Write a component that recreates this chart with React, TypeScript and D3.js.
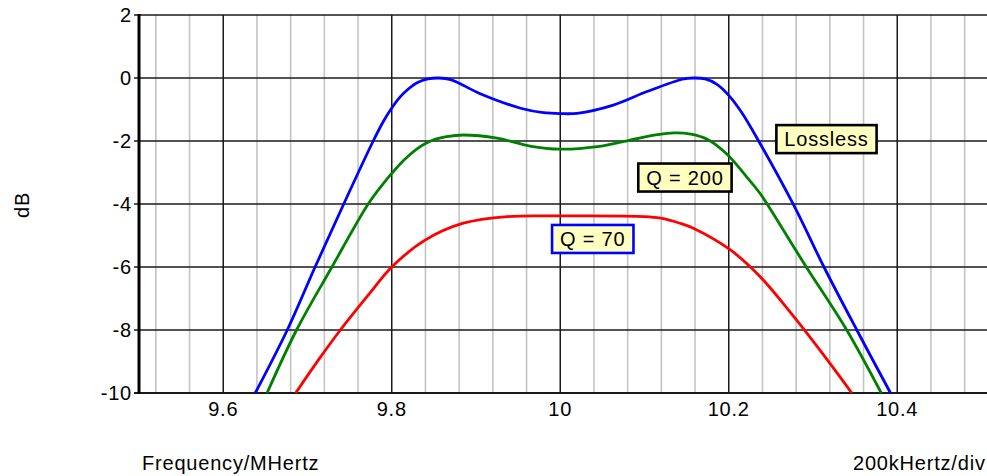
import React, { useRef, useEffect } from "react";
import * as d3 from "d3";

// frequency in MHz, level in dB
const losslessFreq = [9.638, 9.676, 9.709, 9.743, 9.778, 9.79, 9.8, 9.81, 9.82, 9.83, 9.843, 9.856, 9.87, 9.905, 9.953, 9.98, 10.0, 10.02, 10.063, 10.103, 10.145, 10.158, 10.172, 10.186, 10.2, 10.215, 10.237, 10.277, 10.313, 10.352, 10.392];
const losslessDb = [-10, -8, -6, -4, -2, -1.38, -0.95, -0.6, -0.34, -0.15, -0.03, 0, -0.05, -0.5, -0.96, -1.1, -1.13, -1.12, -0.86, -0.43, -0.04, 0, -0.03, -0.2, -0.55, -1.08, -2.07, -4.03, -6, -8, -10];

const q200Freq = [9.652, 9.687, 9.729, 9.772, 9.79, 9.8, 9.81, 9.82, 9.83, 9.84, 9.852, 9.865, 9.885, 9.925, 9.964, 10.0, 10.044, 10.083, 10.115, 10.135, 10.155, 10.175, 10.198, 10.22, 10.237, 10.277, 10.292, 10.34, 10.381];
const q200Db = [-10, -8, -6, -4, -3.35, -3.03, -2.73, -2.47, -2.25, -2.08, -1.94, -1.86, -1.81, -1.91, -2.16, -2.26, -2.18, -1.97, -1.8, -1.74, -1.78, -1.95, -2.42, -3.1, -3.66, -5.36, -6, -8, -10];

const q70Freq = [9.686, 9.713, 9.739, 9.774, 9.8, 9.84, 9.885, 9.937, 10.0, 10.1, 10.119, 10.142, 10.158, 10.202, 10.237, 10.277, 10.317, 10.346];
const q70Db = [-10, -8.95, -8, -6.83, -6, -5.14, -4.61, -4.4, -4.38, -4.4, -4.45, -4.61, -4.77, -5.46, -6.3, -7.57, -8.95, -10];

const yTicks = [2, 0, -2, -4, -6, -8, -10];
const xTickLabels = ["9.6", "9.8", "10", "10.2", "10.4"];

const series = [
  { name: "Lossless", freq: losslessFreq, db: losslessDb, color: "#0000ff" },
  { name: "Q = 200", freq: q200Freq, db: q200Db, color: "#008000" },
  { name: "Q = 70", freq: q70Freq, db: q70Db, color: "#ff0000" },
];

// curve labels, anchored at data coordinates
const labels = [
  { text: "Lossless", f: 10.316, db: -1.94, border: "#000000" },
  { text: "Q = 200", f: 10.148, db: -3.16, border: "#000000" },
  { text: "Q = 70", f: 10.0386, db: -5.11, border: "#0000ff" },
];

function App() {
  const svgRef = useRef(null);

  useEffect(() => {
    const width = 987;
    const height = 476;
    const font = "'Liberation Sans', Arial, sans-serif";
    const fontSize = 20;
    const spacing = 0.8;

    const svg = d3.select(svgRef.current)
      .attr("width", width)
      .attr("height", height);

    svg.selectAll("*").remove();

    const x = d3.scaleLinear().domain([9.5, 10.5]).range([139, 981.5]);
    const y = d3.scaleLinear().domain([-10, 2]).range([393, 15]);

    // GRID
    const minor = d3.range(0, 28).map(k => 9.52 + k * 0.04).filter(f => Math.abs(((f - 9.6) / 0.2) - Math.round((f - 9.6) / 0.2)) > 0.01);
    svg.append("g")
      .selectAll("line")
      .data(minor)
      .enter()
      .append("line")
      .attr("x1", d => x(d))
      .attr("x2", d => x(d))
      .attr("y1", y(2))
      .attr("y2", y(-10))
      .attr("stroke", "#c4c4c4")
      .attr("stroke-width", 1.6);

    const major = xTickLabels.map(Number);
    svg.append("g")
      .selectAll("line")
      .data(major)
      .enter()
      .append("line")
      .attr("x1", d => x(d))
      .attr("x2", d => x(d))
      .attr("y1", y(2))
      .attr("y2", y(-10))
      .attr("stroke", "#1a1a1a")
      .attr("stroke-width", 1.5);

    svg.append("g")
      .selectAll("line")
      .data(yTicks)
      .enter()
      .append("line")
      .attr("x1", 134)
      .attr("x2", width)
      .attr("y1", d => y(d))
      .attr("y2", d => y(d))
      .attr("stroke", "#1a1a1a")
      .attr("stroke-width", d => (d === -10 ? 2 : 1.5));

    // LEFT AXIS
    svg.append("line")
      .attr("x1", x(9.5))
      .attr("x2", x(9.5))
      .attr("y1", y(2) - 1)
      .attr("y2", y(-10) + 1)
      .attr("stroke", "#000")
      .attr("stroke-width", 3);

    // TICK LABELS
    svg.append("g")
      .selectAll("text")
      .data(yTicks)
      .enter()
      .append("text")
      .attr("x", 132)
      .attr("y", d => y(d) + 7)
      .attr("text-anchor", "end")
      .attr("font-family", font)
      .attr("font-size", fontSize)
      .attr("letter-spacing", spacing)
      .text(d => d);

    svg.append("g")
      .selectAll("text")
      .data(xTickLabels)
      .enter()
      .append("text")
      .attr("x", d => x(+d))
      .attr("y", 416)
      .attr("text-anchor", "middle")
      .attr("font-family", font)
      .attr("font-size", fontSize)
      .attr("letter-spacing", spacing)
      .text(d => d);

    // CURVES
    const line = d3.line()
      .x(d => x(d[0]))
      .y(d => y(d[1]))
      .curve(d3.curveCatmullRom.alpha(0.5));

    series.forEach(s => {
      svg.append("path")
        .datum(s.freq.map((f, i) => [f, s.db[i]]))
        .attr("d", line)
        .attr("fill", "none")
        .attr("stroke", s.color)
        .attr("stroke-width", 2.8)
        .attr("stroke-linejoin", "round");
    });

    // LABEL BOXES
    labels.forEach(l => {
      const g = svg.append("g");
      const rect = g.append("rect");
      const t = g.append("text")
        .attr("x", x(l.f))
        .attr("y", y(l.db) + 7)
        .attr("text-anchor", "middle")
        .attr("font-family", font)
        .attr("font-size", fontSize)
        .attr("letter-spacing", spacing)
        .text(l.text);
      const w = t.node().getComputedTextLength() + 16;
      rect.attr("x", x(l.f) - w / 2)
        .attr("y", y(l.db) - 14)
        .attr("width", w)
        .attr("height", 28)
        .attr("fill", "#ffffc0")
        .attr("stroke", l.border)
        .attr("stroke-width", 2.6);
    });

    // AXIS TITLES
    svg.append("text")
      .attr("transform", "rotate(-90)")
      .attr("x", -205)
      .attr("y", 29)
      .attr("text-anchor", "middle")
      .attr("font-family", font)
      .attr("font-size", fontSize)
      .attr("letter-spacing", spacing)
      .text("dB");

    svg.append("text")
      .attr("x", 142)
      .attr("y", 470)
      .attr("font-family", font)
      .attr("font-size", fontSize)
      .attr("letter-spacing", spacing)
      .text("Frequency/MHertz");

    svg.append("text")
      .attr("x", 853)
      .attr("y", 470)
      .attr("font-family", font)
      .attr("font-size", fontSize)
      .attr("letter-spacing", spacing)
      .text("200kHertz/div");
  }, []);

  return (
    <div style={{ position: "fixed", left: 0, top: 0, width: 987, height: 476, background: "#fff", overflow: "hidden" }}>
      <svg ref={svgRef} style={{ display: "block" }}></svg>
    </div>
  );
}

export default App;
